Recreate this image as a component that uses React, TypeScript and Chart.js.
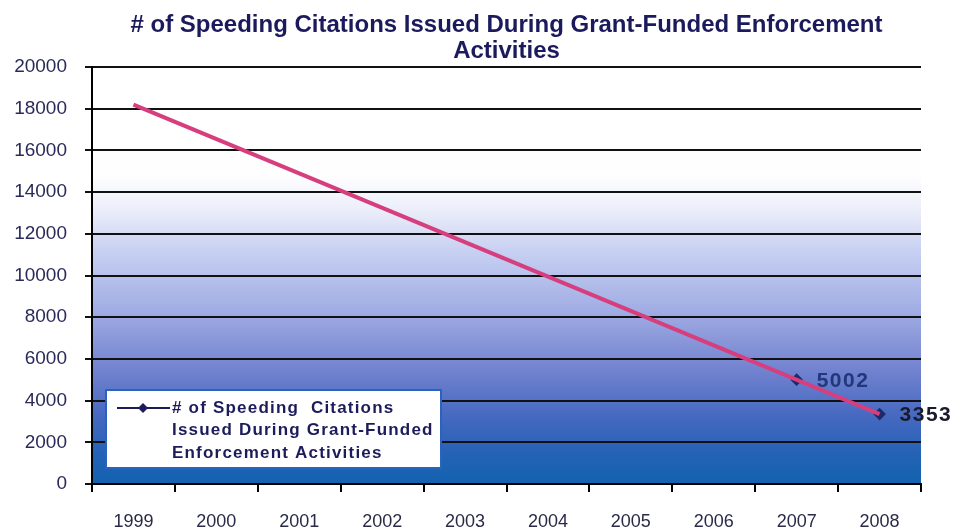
import React, { useEffect, useRef } from "react";
import { Chart, registerables } from "chart.js";

Chart.register(...registerables);

const years = ["1999", "2000", "2001", "2002", "2003", "2004", "2005", "2006", "2007", "2008"];
const citations: (number | null)[] = [null, null, null, null, null, null, null, null, 5002, 3353];
const trend: (number | null)[] = [18200, null, null, null, null, null, null, null, null, 3353];
const yTicks = [0, 2000, 4000, 6000, 8000, 10000, 12000, 14000, 16000, 18000, 20000];
const titleLines = ["# of Speeding Citations Issued During Grant-Funded Enforcement", "Activities"];
const seriesLabel = "# of Speeding Citations Issued During Grant-Funded Enforcement Activities";
const legendLines = ["# of Speeding  Citations", "Issued During Grant-Funded", "Enforcement Activities"];

const FONT = "'Liberation Sans', Arial, sans-serif";

const bgPlugin = {
  id: "bgGradient",
  beforeDraw(chart: any) {
    const { ctx, chartArea } = chart;
    if (!chartArea) return;
    const { left, right, top, bottom } = chartArea;
    const g = ctx.createLinearGradient(0, top, 0, bottom);
    g.addColorStop(0, "#ffffff");
    g.addColorStop(0.26, "#fefeff");
    g.addColorStop(0.34, "#eceffa");
    g.addColorStop(0.44, "#c8d0f2");
    g.addColorStop(0.58, "#a2aee4");
    g.addColorStop(0.72, "#7484d0");
    g.addColorStop(0.84, "#4568c0");
    g.addColorStop(0.93, "#2462b6");
    g.addColorStop(1, "#1262b0");
    ctx.save();
    ctx.fillStyle = g;
    ctx.fillRect(left, top, right - left, bottom - top);
    // title
    const cx = (left + right) / 2;
    ctx.fillStyle = "#1a1a5c";
    ctx.font = `bold 24px ${FONT}`;
    ctx.textAlign = "center";
    ctx.textBaseline = "alphabetic";
    (ctx as any).letterSpacing = "0px";
    ctx.fillText(titleLines[0], cx, 32);
    ctx.fillText(titleLines[1], cx, 58);
    ctx.restore();
  },
};

const overlayPlugin = {
  id: "overlay",
  afterDraw(chart: any) {
    const { ctx, chartArea } = chart;
    if (!chartArea) return;
    const meta = chart.getDatasetMeta(0);
    ctx.save();
    ctx.font = `bold 21px ${FONT}`;
    (ctx as any).letterSpacing = "1.5px";
    ctx.textBaseline = "middle";
    ctx.textAlign = "left";
    const colors = ["#23377a", "#1a1a2e"];
    let ci = 0;
    meta.data.forEach((pt: any, i: number) => {
      const v = citations[i];
      if (v == null) return;
      ctx.fillStyle = colors[ci++] || "#1a1a2e";
      ctx.fillText(String(v), pt.x + 20, pt.y + 1);
    });
    // legend box
    const bx = chartArea.left + 14;
    const by = chartArea.bottom - 94;
    const bw = 335;
    const bh = 78;
    ctx.fillStyle = "#ffffff";
    ctx.fillRect(bx, by, bw, bh);
    ctx.strokeStyle = "#2a62c0";
    ctx.lineWidth = 2;
    ctx.strokeRect(bx, by, bw, bh);
    const ly = by + 18;
    ctx.strokeStyle = "#1c1c5a";
    ctx.lineWidth = 2;
    ctx.beginPath();
    ctx.moveTo(bx + 11, ly);
    ctx.lineTo(bx + 64, ly);
    ctx.stroke();
    ctx.fillStyle = "#1c1c5a";
    ctx.beginPath();
    ctx.moveTo(bx + 37, ly - 5);
    ctx.lineTo(bx + 42, ly);
    ctx.lineTo(bx + 37, ly + 5);
    ctx.lineTo(bx + 32, ly);
    ctx.closePath();
    ctx.fill();
    ctx.font = `bold 17px ${FONT}`;
    (ctx as any).letterSpacing = "1.2px";
    ctx.fillStyle = "#1c1c5a";
    legendLines.forEach((t, i) => {
      ctx.fillText(t, bx + 66, ly + i * 22.5);
    });
    ctx.restore();
  },
};

export default function App() {
  const ref = useRef<HTMLCanvasElement | null>(null);
  useEffect(() => {
    if (!ref.current) return;
    const chart = new Chart(ref.current, {
      type: "line",
      data: {
        labels: years,
        datasets: [
          {
            label: seriesLabel,
            data: citations,
            borderColor: "#1c1c5a",
            backgroundColor: "#1c1c5a",
            borderWidth: 2,
            pointStyle: "rectRot",
            pointRadius: 5,
            pointBackgroundColor: "#1c2c6a",
            pointBorderColor: "#1c2c6a",
            spanGaps: true,
            order: 2,
          },
          {
            label: "trend",
            data: trend,
            borderColor: "#d63e7e",
            borderWidth: 4,
            pointRadius: 0,
            spanGaps: true,
            order: 1,
          },
        ],
      },
      options: {
        animation: false,
        responsive: false,
        layout: { padding: { left: 0, right: 40, top: 67, bottom: 0 } },
        plugins: {
          legend: { display: false },
          tooltip: { enabled: false },
          title: { display: false },
        },
        scales: {
          x: {
            offset: true,
            grid: {
              display: true,
              drawOnChartArea: false,
              offset: true,
              tickLength: 8,
              color: "#000000",
              lineWidth: 2,
            },
            border: { color: "#000000", width: 2 },
            ticks: {
              color: "#2a2a48",
              font: { family: FONT, size: 18 },
              padding: 19,
              maxRotation: 0,
            },
            afterFit(scale: any) {
              scale.height = 46;
            },
          },
          y: {
            min: 0,
            max: 20000,
            afterBuildTicks(scale: any) {
              scale.ticks = yTicks.map((v) => ({ value: v }));
            },
            grid: {
              color: "#111111",
              lineWidth: 2,
              tickLength: 7,
            },
            border: { color: "#000000", width: 2 },
            ticks: {
              color: "#2a2a5a",
              font: { family: FONT, size: 19 },
              padding: 18,
              callback: (v: any) => String(v),
            },
            afterFit(scale: any) {
              scale.width = 92;
            },
          },
        },
      },
      plugins: [bgPlugin, overlayPlugin],
    });
    return () => chart.destroy();
  }, []);
  return (
    <div style={{ position: "absolute", left: 0, top: 0, width: 961, height: 530, background: "#ffffff" }}>
      <canvas ref={ref} width={961} height={530} style={{ display: "block" }} />
    </div>
  );
}
